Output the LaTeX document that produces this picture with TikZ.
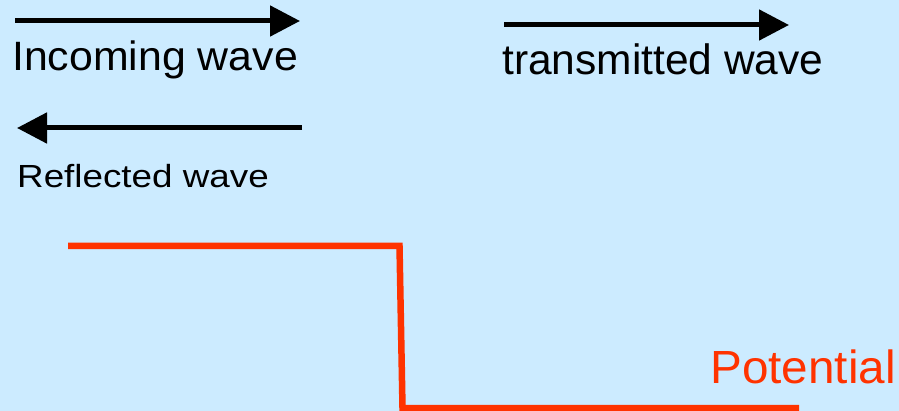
\documentclass[tikz,border=0pt]{standalone}
\usepackage{fontspec}
\setmainfont{Liberation Sans}
\usetikzlibrary{arrows.meta}
\definecolor{bgblue}{RGB}{204,235,255}
\definecolor{potred}{RGB}{255,51,0}
\tikzset{
  wave/.style={line width=5pt,-{Triangle[length=30pt,width=30pt]}},
  lbl/.style={inner sep=0pt,anchor=base west},
  pot/.style={draw=potred,line width=6.5pt}
}
\begin{document}
\begin{tikzpicture}[x=1pt,y=-1pt]
\fill[bgblue] (0,0) rectangle (899,411);
\useasboundingbox (0,0) rectangle (899,411);
% arrows
\coordinate (inA) at (15,21);
\coordinate (inB) at (300,21);
\draw[wave] (inA) -- (inB);
\node[lbl,font=\fontsize{41}{48}\selectfont] (incoming) at (12,70.5) {\scalebox{1.045}[1]{Incoming wave}};
\coordinate (trA) at (504,25);
\coordinate (trB) at (789,25);
\draw[wave] (trA) -- (trB);
\node[lbl,font=\fontsize{42.5}{50}\selectfont] (transmitted) at (502,75) {transmitted wave};
\coordinate (reA) at (302,128);
\coordinate (reB) at (17,128);
\draw[wave] (reA) -- (reB);
\node[lbl,font=\fontsize{32}{38}\selectfont] (reflected) at (17,187.3) {\scalebox{1.15}[1]{Reflected wave}};
% potential
\coordinate (p1) at (68,246);
\coordinate (p2) at (399.5,246);
\coordinate (p3) at (402.5,408);
\coordinate (p4) at (799,408);
\draw[pot] (p1) -- (p2) -- (p3) -- (p4);
\node[lbl,font=\fontsize{46.5}{54}\selectfont,text=potred] (potential) at (710,383) {\scalebox{1.025}[1]{Potential}};
\end{tikzpicture}
\end{document}
